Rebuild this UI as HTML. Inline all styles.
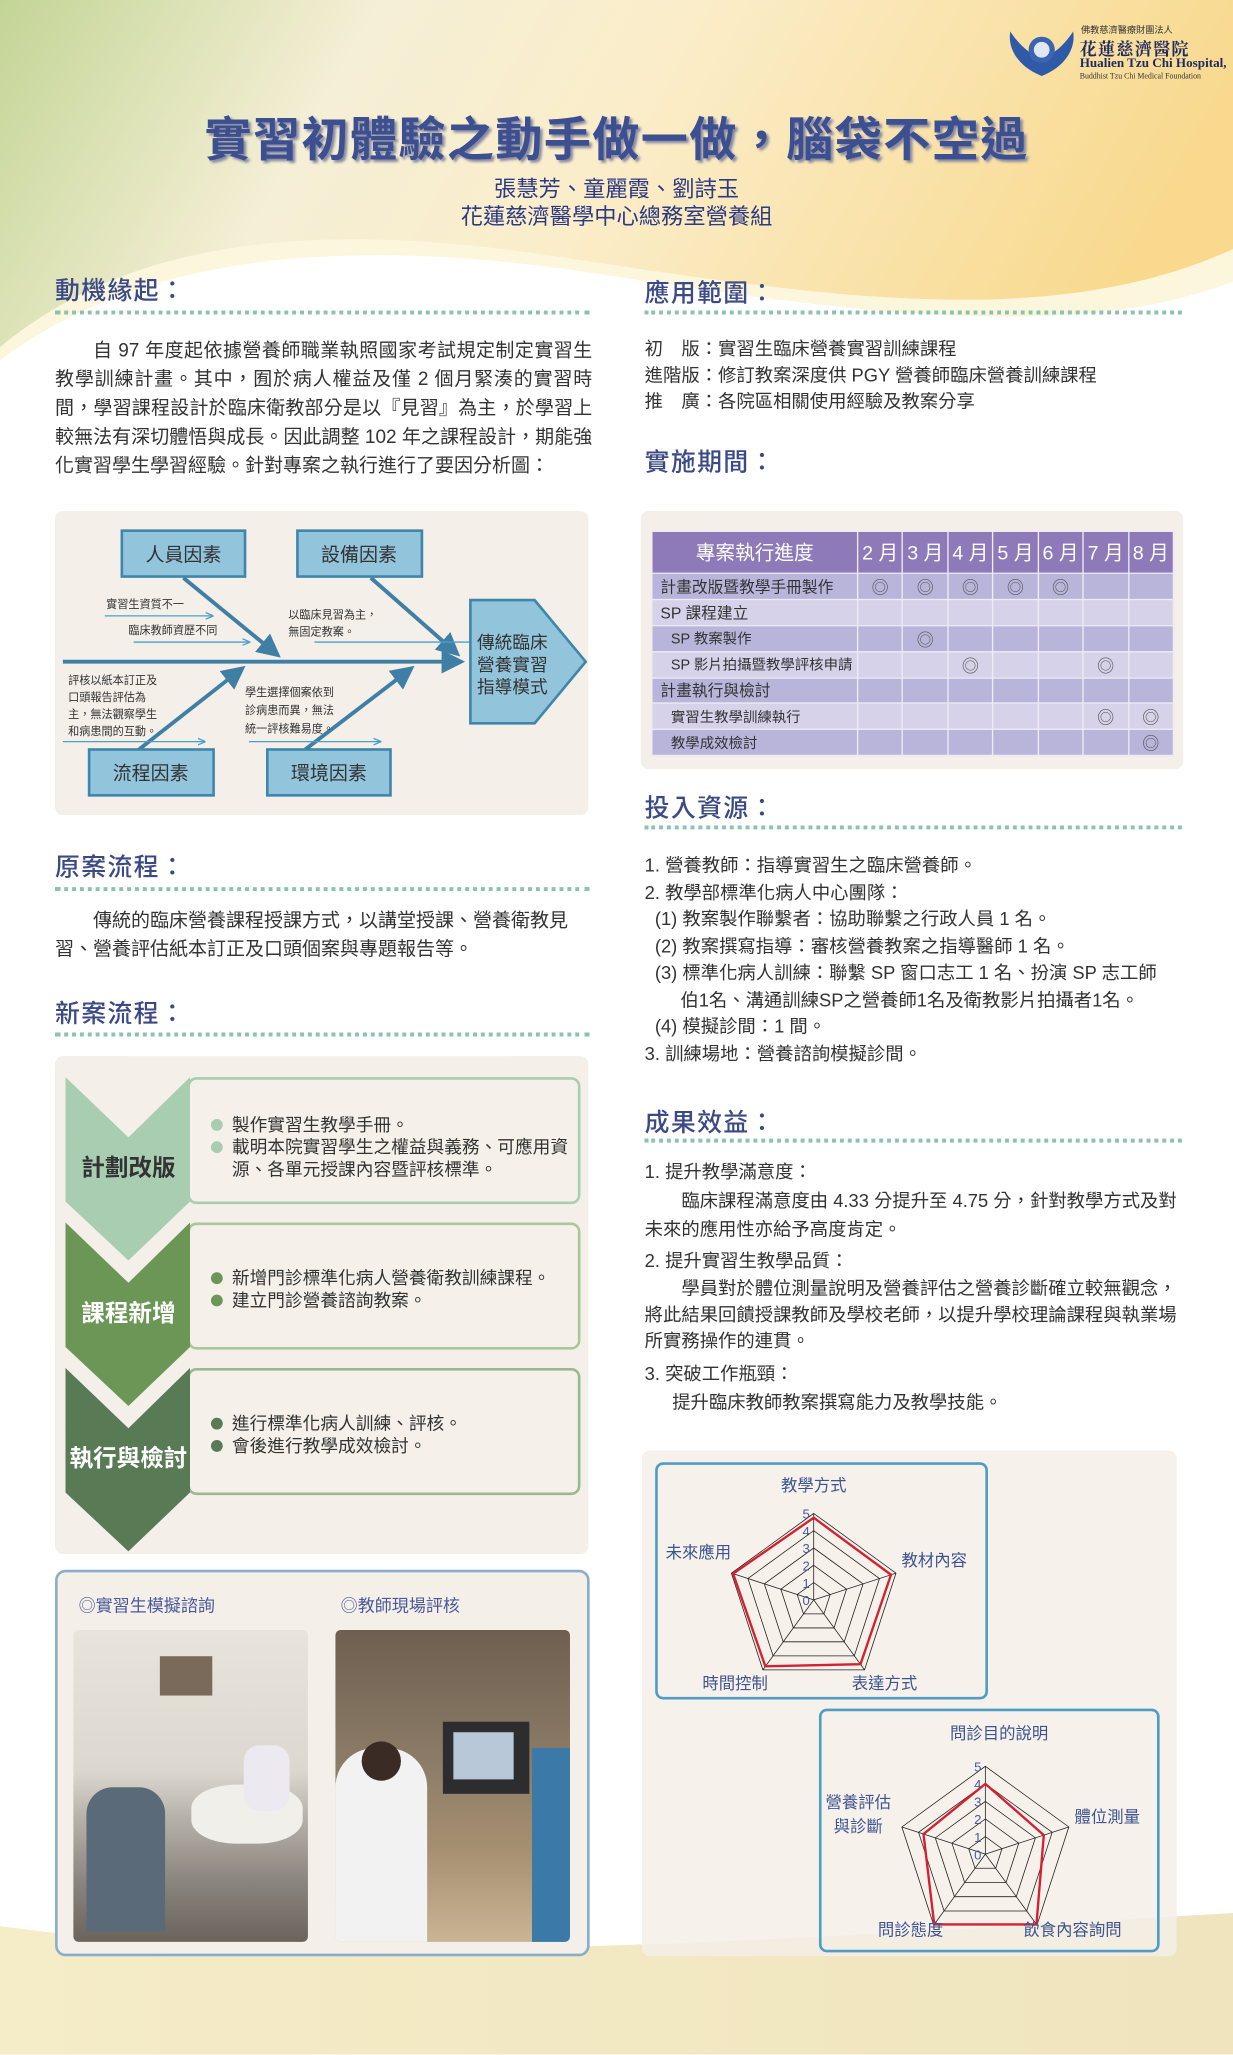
<!DOCTYPE html>
<html><head><meta charset="utf-8">
<style>
html,body{margin:0;padding:0;}
body{width:1233px;height:2055px;overflow:hidden;background:#fff;}
#w{position:absolute;left:0;top:0;width:941px;height:1568px;transform:scale(1.31031);transform-origin:0 0;font-family:"Liberation Sans","Noto Sans CJK TC",sans-serif;color:#333;}
.a{position:absolute;}
.h{position:absolute;font-size:19px;color:#3b4a86;font-weight:500;letter-spacing:1px;}
.dots{position:absolute;height:0;border-top:3px dotted #8cc2b2;}
.p{position:absolute;font-size:14.5px;line-height:22px;color:#333;}
.box{position:absolute;background:#f4efe8;border-radius:6px;}
table{border-collapse:collapse;}
td{border:1px solid #eeeaf6;height:18.5px;font-size:12px;color:#333;padding:0;text-align:center;}
td.l{text-align:left;padding-left:6px;}
td.s{text-align:left;padding-left:14px;font-size:11px;}
tr.o td{background:#b9b4da;} tr.e td{background:#d5d2ea;}
th{background:#8e7ab8;color:#fff;font-weight:normal;font-size:15px;border:1px solid #eeeaf6;height:31px;padding:0;}
.ci{font-size:13px;color:#555;}
.fb{position:absolute;border:2px solid #a9cdb0;border-radius:7px;background:#f5f1ea;font-size:13.5px;line-height:17px;color:#333;}
.fb ul{margin:0;padding:0;list-style:none;}
.fb li{position:relative;padding-left:18px;}
.fb li:before{content:"";position:absolute;left:2px;top:4px;width:9px;height:9px;border-radius:50%;background:var(--c);}
</style></head><body>
<div id="w">
<svg class="a" style="left:0;top:0" width="941" height="1568">
<defs>
<linearGradient id="tg" x1="0" y1="0" x2="1" y2="0.2">
<stop offset="0" stop-color="#c3d596"/><stop offset="0.3" stop-color="#f5efd6"/><stop offset="0.55" stop-color="#fbedc9"/><stop offset="1" stop-color="#f8d98e"/></linearGradient>
<linearGradient id="bg" x1="0" y1="0" x2="1" y2="0"><stop offset="0" stop-color="#f5ecc8"/><stop offset="1" stop-color="#efe4bd"/></linearGradient>
</defs>
<rect width="941" height="330" fill="url(#tg)"/>
<path d="M0,265 C90,190 220,165 420,195 C620,225 800,255 941,190 L941,330 L0,330Z" fill="#fbf6dc"/>
<path d="M0,275 C100,200 240,180 430,205 C630,235 810,265 941,215 L941,1568 L0,1568Z" fill="#fff"/>
<path d="M0,1470 C250,1505 600,1480 941,1460 L941,1568 L0,1568Z" fill="url(#bg)"/>
</svg>
<!-- logo -->
<svg class="a" style="left:765px;top:20px" width="60" height="40"><path d="M30,38 C10,30 4,15 6,4 C14,16 22,22 30,24 C38,22 46,16 54,4 C56,15 50,30 30,38Z" fill="#2f5aa8"/><circle cx="30" cy="18" r="10" fill="#3b63b0"/><circle cx="30" cy="18" r="6" fill="#dfe7f5"/></svg>
<div class="a" style="left:825px;top:18px;font-size:7px;color:#333;">佛教慈濟醫療財團法人</div>
<div class="a" style="left:824px;top:27px;font-size:13px;color:#1e2a60;font-family:'Noto Serif CJK SC',serif;font-weight:bold;letter-spacing:1px;">花蓮慈濟醫院</div>
<div class="a" style="left:824px;top:43px;font-size:10px;color:#1e2a60;font-family:'Liberation Serif',serif;font-weight:bold;">Hualien Tzu Chi Hospital,</div>
<div class="a" style="left:824px;top:56px;font-size:6px;color:#333;font-family:'Liberation Serif',serif;">Buddhist Tzu Chi Medical Foundation</div>
<!-- title -->
<div class="a" style="left:0;width:941px;top:78px;text-align:center;font-size:36px;font-weight:bold;color:#3c4f90;text-shadow:2px 2px 2px #8a8aa0;letter-spacing:1px;">實習初體驗之動手做一做，腦袋不空過</div>
<div class="a" style="left:0;width:941px;top:134px;text-align:center;font-size:17px;line-height:21px;color:#2c3a82;">張慧芳、童麗霞、劉詩玉<br>花蓮慈濟醫學中心總務室營養組</div>

<!-- left column -->
<div class="h" style="left:42px;top:207px;">動機緣起：</div>
<div class="dots" style="left:42px;top:237px;width:408px;"></div>
<div class="p" style="left:42px;top:257px;width:410px;text-indent:2em;text-align:justify;">自 97 年度起依據營養師職業執照國家考試規定制定實習生教學訓練計畫。其中，囿於病人權益及僅 2 個月緊湊的實習時間，學習課程設計於臨床衛教部分是以『見習』為主，於學習上較無法有深切體悟與成長。因此調整 102 年之課程設計，期能強化實習學生學習經驗。針對專案之執行進行了要因分析圖：</div>

<div class="box" style="left:42px;top:390px;width:407px;height:232px;"></div>
<svg class="a" style="left:0;top:0" width="941" height="700">
<defs><marker id="m1" markerWidth="6" markerHeight="6" refX="5" refY="3" orient="auto"><path d="M0,0 L6,3 L0,6Z" fill="#3f7fa6"/></marker>
<marker id="m2" markerWidth="6" markerHeight="6" refX="5" refY="3" orient="auto"><path d="M0,0.5 L6,3 L0,5.5" fill="none" stroke="#4aa0c8" stroke-width="1"/></marker></defs>
<g stroke="#3f7fa6" stroke-width="3" marker-end="url(#m1)">
<line x1="48" y1="505" x2="352" y2="505"/>
<line x1="140" y1="441" x2="212" y2="500"/>
<line x1="283" y1="441" x2="349" y2="499"/>
<line x1="106" y1="572" x2="185" y2="510"/>
<line x1="233" y1="572" x2="314" y2="510"/>
</g>
<g stroke="#4aa0c8" stroke-width="1" marker-end="url(#m2)">
<line x1="80" y1="470" x2="162" y2="470"/>
<line x1="102" y1="490" x2="190" y2="490"/>
<line x1="240" y1="490" x2="370" y2="490"/>
<line x1="48" y1="566" x2="156" y2="566"/>
<line x1="190" y1="566" x2="290" y2="566"/>
</g>
<g fill="#92c4dc" stroke="#3f86ab" stroke-width="2">
<rect x="93" y="405" width="94" height="35"/><rect x="227" y="405" width="95" height="35"/>
<rect x="68" y="572" width="95" height="35"/><rect x="204" y="572" width="94" height="35"/>
<path d="M359,458 L408,458 L447,505 L408,552 L359,552Z"/>
</g>
<g font-size="14.5" fill="#333" text-anchor="middle">
<text x="140" y="428">人員因素</text><text x="274" y="428">設備因素</text>
<text x="115" y="595">流程因素</text><text x="251" y="595">環境因素</text>
</g>
<g font-size="13.5" fill="#333"><text x="364" y="495">傳統臨床</text><text x="364" y="512">營養實習</text><text x="364" y="529">指導模式</text></g>
<g font-size="8.5" fill="#333">
<text x="81" y="464">實習生資質不一</text><text x="98" y="484">臨床教師資歷不同</text>
<text x="220" y="472">以臨床見習為主，</text><text x="220" y="485">無固定教案。</text>
<text x="52" y="522">評核以紙本訂正及</text><text x="52" y="535">口頭報告評估為</text><text x="52" y="548">主，無法觀察學生</text><text x="52" y="561">和病患間的互動。</text>
<text x="187" y="531">學生選擇個案依到</text><text x="187" y="545">診病患而異，無法</text><text x="187" y="559">統一評核難易度。</text>
</g>
</svg>

<div class="h" style="left:42px;top:647px;">原案流程：</div>
<div class="dots" style="left:42px;top:677px;width:408px;"></div>
<div class="p" style="left:42px;top:692px;width:410px;text-indent:2em;">傳統的臨床營養課程授課方式，以講堂授課、營養衛教見習、營養評估紙本訂正及口頭個案與專題報告等。</div>

<div class="h" style="left:42px;top:759px;">新案流程：</div>
<div class="dots" style="left:42px;top:788px;width:408px;"></div>
<div class="box" style="left:42px;top:806px;width:407px;height:380px;"></div>
<div class="fb" style="left:143px;top:822px;width:296px;height:93px;--c:#a9cdb0;"><ul style="margin-top:26px;margin-left:14px;margin-right:6px;"><li>製作實習生教學手冊。</li><li>載明本院實習學生之權益與義務、可應用資源、各單元授課內容暨評核標準。</li></ul></div>
<div class="fb" style="left:143px;top:933px;width:296px;height:93px;border-color:#a9c79a;--c:#6b9656;"><ul style="margin-top:32px;margin-left:14px;"><li>新增門診標準化病人營養衛教訓練課程。</li><li>建立門診營養諮詢教案。</li></ul></div>
<div class="fb" style="left:143px;top:1044px;width:296px;height:93px;border-color:#9bb98e;--c:#587a55;"><ul style="margin-top:32px;margin-left:14px;"><li>進行標準化病人訓練、評核。</li><li>會後進行教學成效檢討。</li></ul></div>
<svg class="a" style="left:0;top:0" width="941" height="1200">
<path d="M50,822 L98,868 L145,822 L145,917 L98,962 L50,917Z" fill="#a9cdb0"/>
<path d="M50,933 L98,979 L145,933 L145,1028 L98,1073 L50,1028Z" fill="#6b9656"/>
<path d="M50,1044 L98,1090 L145,1044 L145,1139 L98,1184 L50,1139Z" fill="#587a55"/>
<g font-size="18" font-weight="bold" text-anchor="middle"><text x="98" y="897" fill="#333">計劃改版</text><text x="98" y="1008" fill="#fff">課程新增</text><text x="98" y="1119" fill="#fff">執行與檢討</text></g>
</svg>

<div class="a" style="left:42px;top:1198px;width:404px;height:291px;border:2px solid #8aaec8;border-radius:8px;background:#f4efe8;"></div>
<div class="a" style="left:60px;top:1215px;font-size:13px;color:#4a5a9a;">◎實習生模擬諮詢</div>
<div class="a" style="left:260px;top:1215px;font-size:13px;color:#4a5a9a;">◎教師現場評核</div>
<div class="a" style="left:56px;top:1244px;width:179px;height:238px;border-radius:4px;background:linear-gradient(180deg,#e8e4dc 0%,#dcd8d0 45%,#b7b2a9 60%,#8c8680 80%,#6a645c 100%);overflow:hidden;">
<div class="a" style="left:90px;top:118px;width:85px;height:45px;background:#f1efe9;border-radius:40%;"></div>
<div class="a" style="left:10px;top:120px;width:60px;height:110px;background:#5a6a78;border-radius:20px 20px 0 0;"></div>
<div class="a" style="left:130px;top:88px;width:35px;height:50px;background:#eceaf0;border-radius:12px;"></div>
<div class="a" style="left:66px;top:20px;width:40px;height:30px;background:#7a6a5a;"></div>
</div>
<div class="a" style="left:256px;top:1244px;width:179px;height:238px;border-radius:4px;background:linear-gradient(180deg,#6e5f50 0%,#8a7a66 40%,#a58f70 70%,#c9b494 100%);overflow:hidden;">
<div class="a" style="left:82px;top:70px;width:66px;height:55px;background:#2d2d30;"></div>
<div class="a" style="left:90px;top:78px;width:46px;height:36px;background:#b8c8d8;"></div>
<div class="a" style="left:0;top:90px;width:70px;height:150px;background:#f2f2f2;border-radius:30px 30px 0 0;"></div>
<div class="a" style="left:20px;top:85px;width:30px;height:30px;background:#3a2c24;border-radius:50%;"></div>
<div class="a" style="left:150px;top:90px;width:29px;height:150px;background:#3b7aa8;"></div>
</div>

<!-- right column -->
<div class="h" style="left:492px;top:209px;">應用範圍：</div>
<div class="dots" style="left:492px;top:237px;width:410px;"></div>
<div class="p" style="left:492px;top:256px;line-height:20px;font-size:14px;">初　版：實習生臨床營養實習訓練課程<br>進階版：修訂教案深度供 PGY 營養師臨床營養訓練課程<br>推　廣：各院區相關使用經驗及教案分享</div>
<div class="h" style="left:492px;top:338px;">實施期間：</div>
<div class="box" style="left:489px;top:390px;width:414px;height:197px;"></div>
<table class="a" style="left:497px;top:405px;width:399px;">
<tr><th style="width:156px;">專案執行進度</th><th>2 月</th><th>3 月</th><th>4 月</th><th>5 月</th><th>6 月</th><th>7 月</th><th>8 月</th></tr>
<tr class="o"><td class="l">計畫改版暨教學手冊製作</td><td class="ci">◎</td><td class="ci">◎</td><td class="ci">◎</td><td class="ci">◎</td><td class="ci">◎</td><td></td><td></td></tr>
<tr class="e"><td class="l">SP 課程建立</td><td></td><td></td><td></td><td></td><td></td><td></td><td></td></tr>
<tr class="o"><td class="s">SP 教案製作</td><td></td><td class="ci">◎</td><td></td><td></td><td></td><td></td><td></td></tr>
<tr class="e"><td class="s">SP 影片拍攝暨教學評核申請</td><td></td><td></td><td class="ci">◎</td><td></td><td></td><td class="ci">◎</td><td></td></tr>
<tr class="o"><td class="l">計畫執行與檢討</td><td></td><td></td><td></td><td></td><td></td><td></td><td></td></tr>
<tr class="e"><td class="s">實習生教學訓練執行</td><td></td><td></td><td></td><td></td><td></td><td class="ci">◎</td><td class="ci">◎</td></tr>
<tr class="o"><td class="s">教學成效檢討</td><td></td><td></td><td></td><td></td><td></td><td></td><td class="ci">◎</td></tr>
</table>

<div class="h" style="left:492px;top:602px;">投入資源：</div>
<div class="dots" style="left:492px;top:630px;width:410px;"></div>
<div class="p" style="left:492px;top:650px;font-size:14px;line-height:20.5px;width:415px;">1. 營養教師：指導實習生之臨床營養師。<br>2. 教學部標準化病人中心團隊：<br>&nbsp;&nbsp;(1) 教案製作聯繫者：協助聯繫之行政人員 1 名。<br>&nbsp;&nbsp;(2) 教案撰寫指導：審核營養教案之指導醫師 1 名。<br>&nbsp;&nbsp;(3) 標準化病人訓練：聯繫 SP 窗口志工 1 名、扮演 SP 志工師<br>&nbsp;&nbsp;&nbsp;&nbsp;&nbsp;&nbsp;&nbsp;伯1名、溝通訓練SP之營養師1名及衛教影片拍攝者1名。<br>&nbsp;&nbsp;(4) 模擬診間：1 間。<br>3. 訓練場地：營養諮詢模擬診間。</div>

<div class="h" style="left:492px;top:842px;">成果效益：</div>
<div class="dots" style="left:492px;top:869px;width:410px;"></div>
<div class="p" style="left:492px;top:883px;font-size:14px;line-height:22px;width:412px;">1. 提升教學滿意度：<br><div style="text-indent:2em;">臨床課程滿意度由 4.33 分提升至 4.75 分，針對教學方式及對未來的應用性亦給予高度肯定。</div><div style="margin-top:2px;">2. 提升實習生教學品質：</div><div style="text-indent:2em;line-height:20px;">學員對於體位測量說明及營養評估之營養診斷確立較無觀念，將此結果回饋授課教師及學校老師，以提升學校理論課程與執業場所實務操作的連貫。</div><div style="margin-top:4px;">3. 突破工作瓶頸：</div><div style="text-indent:1.5em;">提升臨床教師教案撰寫能力及教學技能。</div></div>

<div class="box" style="left:490px;top:1107px;width:408px;height:386px;background:rgba(244,239,232,0.85);"></div>
<div class="a" style="left:500px;top:1116px;width:250px;height:177px;border:2px solid #4f9cc4;border-radius:6px;"></div>
<div class="a" style="left:625px;top:1304px;width:256px;height:182px;border:2px solid #4f9cc4;border-radius:6px;"></div>
<svg class="a" style="left:0;top:0" width="941" height="1568" id="rad"></svg>
<div class="a" style="left:0;top:0;width:941px;height:1568px;font-size:12.5px;color:#3d5490;">
<div class="a" style="left:596px;top:1123px;">教學方式</div>
<div class="a" style="left:688px;top:1180px;">教材內容</div>
<div class="a" style="left:650px;top:1274px;">表達方式</div>
<div class="a" style="left:536px;top:1274px;">時間控制</div>
<div class="a" style="left:508px;top:1174px;">未來應用</div>
<div class="a" style="left:725px;top:1312px;">問診目的說明</div>
<div class="a" style="left:820px;top:1376px;">體位測量</div>
<div class="a" style="left:781px;top:1462px;">飲食內容詢問</div>
<div class="a" style="left:670px;top:1462px;">問診態度</div>
<div class="a" style="left:630px;top:1367px;text-align:center;line-height:18px;">營養評估<br>與診斷</div>
</div>
</div>
<script>
(function(){
var s=document.getElementById('rad'),h='';
function chart(cx,cy,R,vals){
 var pts=function(r){var a=[];for(var i=0;i<5;i++){var t=-Math.PI/2+i*2*Math.PI/5;a.push((cx+r*Math.cos(t)).toFixed(1)+','+(cy+r*Math.sin(t)).toFixed(1));}return a;};
 for(var k=1;k<=5;k++)h+='<polygon points="'+pts(R*k/5).join(' ')+'" fill="none" stroke="#222" stroke-width="0.6"/>';
 var o=pts(R);for(var i=0;i<5;i++)h+='<line x1="'+cx+'" y1="'+cy+'" x2="'+o[i].split(',')[0]+'" y2="'+o[i].split(',')[1]+'" stroke="#222" stroke-width="0.6"/>';
 var r=[];for(var i=0;i<5;i++){var t=-Math.PI/2+i*2*Math.PI/5;r.push((cx+R*vals[i]/5*Math.cos(t)).toFixed(1)+','+(cy+R*vals[i]/5*Math.sin(t)).toFixed(1));}
 h+='<polygon points="'+r.join(' ')+'" fill="none" stroke="#d42030" stroke-width="1.8"/>';
 for(var k=0;k<=5;k++)h+='<text x="'+(cx-3)+'" y="'+(cy-R*k/5+4)+'" font-size="10" fill="#4a5a9a" text-anchor="end" font-family="Liberation Sans">'+k+'</text>';
}
chart(621,1221,66,[4.75,4.7,4.6,4.75,4.9]);
chart(752,1415,67,[4,3.5,4.95,4.95,3.7]);
s.innerHTML=h;
})();
</script>
</body></html>
